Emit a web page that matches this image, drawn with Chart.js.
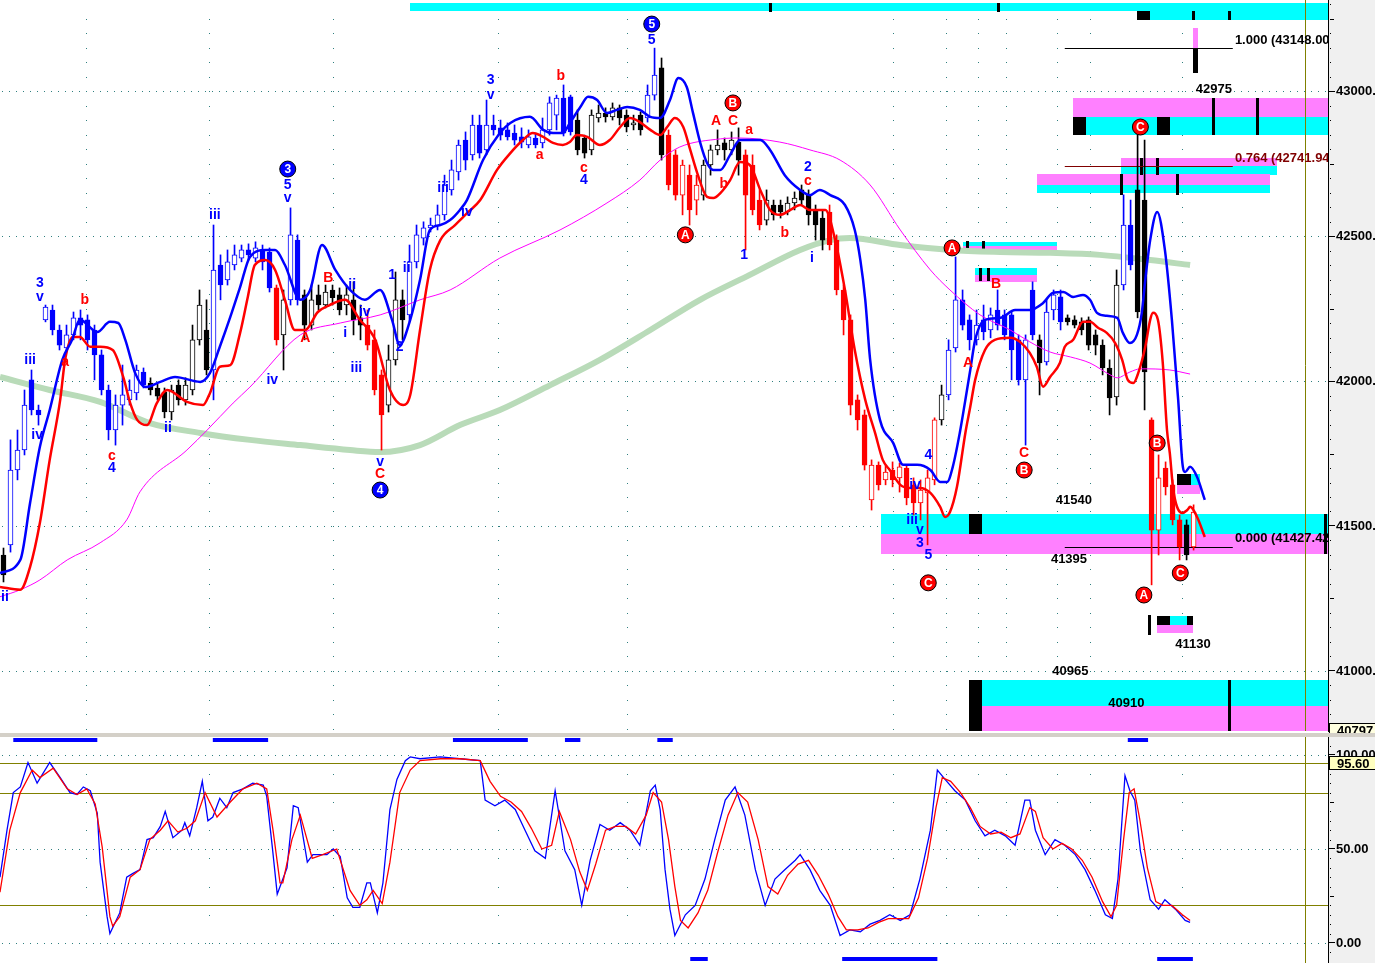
<!DOCTYPE html>
<html>
<head>
<meta charset="utf-8">
<title>Wave count chart</title>
<script src="https://cdn.jsdelivr.net/npm/chart.js@4.4.1/dist/chart.umd.min.js"></script>
<style>
  html, body { margin: 0; padding: 0; }
  body { width: 1375px; height: 963px; background: #d4d0c8; position: relative; overflow: hidden; }
  .panel { position: absolute; left: 0; width: 1375px; background: #fff; }
  #pricePanel { top: 0; height: 733px; }
  #stochPanel { top: 737px; height: 226px; }
</style>
</head>
<body>
<div class="panel" id="pricePanel"><canvas id="priceChart"></canvas></div>
<div class="panel" id="stochPanel"><canvas id="stochChart"></canvas></div>
<script>
// one row per bar: open, high, low, close, trend (b = up, r = down, k = neutral)
const ohlc = [
  [41400,41424,41307,41331,'k'],[41435,41797,41410,41693,'b'],[41693,41831,41659,41762,'b'],[41762,41969,41745,41917,'b'],
  [42004,42038,41883,41900,'b'],[41900,41917,41848,41883,'b'],[42211,42262,42204,42255,'b'],[42245,42262,42159,42176,'b'],
  [42176,42193,42107,42124,'b'],[42114,42193,42100,42159,'b'],[42159,42238,42142,42218,'b'],[42218,42245,42142,42193,'b'],
  [42211,42228,42107,42142,'b'],[42176,42193,42004,42090,'b'],[42090,42107,41952,41969,'b'],[41969,41986,41797,41831,'b'],
  [41831,41952,41779,41917,'b'],[41917,42055,41848,41952,'b'],[41935,42004,41917,41969,'b'],[41959,42055,41935,42038,'b'],
  [42031,42045,41976,41986,'b'],[41993,42011,41952,41969,'k'],[41976,41990,41935,41948,'k'],[41962,41976,41873,41893,'k'],
  [41893,41986,41866,41969,'k'],[41986,42004,41917,41935,'k'],[41935,42011,41917,41986,'k'],[41969,42193,41952,42142,'k'],
  [42142,42314,42124,42262,'k'],[42176,42280,42021,42038,'k'],[42038,42538,41935,42383,'b'],[42400,42435,42280,42331,'b'],
  [42349,42452,42331,42411,'b'],[42400,42469,42383,42435,'b'],[42424,42469,42411,42452,'b'],[42452,42473,42417,42435,'b'],
  [42424,42480,42411,42459,'b'],[42452,42469,42383,42411,'b'],[42445,42459,42307,42321,'b'],[42321,42331,42124,42142,'r'],
  [42159,42314,42038,42280,'k'],[42280,42597,42262,42504,'b'],[42486,42504,42262,42280,'b'],[42297,42314,42142,42193,'k'],
  [42193,42331,42176,42280,'k'],[42297,42331,42245,42262,'k'],[42262,42331,42252,42307,'k'],[42314,42331,42262,42287,'k'],
  [42297,42321,42228,42245,'k'],[42262,42331,42228,42297,'k'],[42280,42342,42159,42211,'k'],[42218,42262,42142,42193,'k'],
  [42193,42245,42107,42124,'r'],[42142,42176,41952,41969,'r'],[42021,42038,41762,41883,'r'],[41917,42124,41893,42073,'k'],
  [42073,42376,42055,42280,'k'],[42280,42314,42142,42211,'k'],[42228,42469,42204,42411,'b'],[42411,42538,42390,42504,'b'],
  [42493,42549,42469,42528,'b'],[42528,42562,42514,42538,'b'],[42535,42607,42521,42573,'b'],[42573,42710,42555,42676,'b'],
  [42659,42762,42641,42728,'b'],[42721,42831,42693,42814,'b'],[42831,42859,42728,42762,'b'],[42780,42917,42762,42883,'b'],
  [42883,42917,42769,42786,'b'],[42797,42969,42780,42883,'b'],[42883,42917,42848,42866,'b'],[42873,42900,42831,42848,'b'],
  [42866,42890,42831,42842,'b'],[42855,42883,42814,42831,'b'],[42842,42873,42804,42824,'b'],[42814,42866,42804,42842,'b'],
  [42838,42855,42804,42814,'b'],[42821,42907,42804,42866,'b'],[42866,42980,42848,42959,'b'],[42917,42986,42866,42976,'b'],
  [42976,43021,42845,42855,'b'],[42980,42986,42848,42859,'b'],[42900,42935,42780,42797,'k'],[42838,42848,42769,42786,'k'],
  [42797,42935,42780,42917,'k'],[42907,42952,42893,42924,'k'],[42924,42942,42893,42911,'k'],[42911,42959,42900,42942,'k'],
  [42942,42952,42883,42907,'k'],[42917,42935,42859,42876,'k'],[42883,42917,42866,42890,'k'],[42917,42928,42848,42866,'k'],
  [42907,43021,42893,42986,'b'],[42986,43148,42969,43055,'b'],[43080,43114,42762,42780,'k'],[42848,42866,42659,42676,'r'],
  [42780,42797,42624,42641,'r'],[42641,42762,42573,42745,'r'],[42710,42745,42538,42590,'r'],[42624,42710,42573,42676,'r'],
  [42641,42762,42624,42745,'k'],[42745,42814,42710,42797,'k'],[42797,42866,42780,42814,'k'],[42821,42838,42762,42797,'k'],
  [42797,42859,42780,42831,'k'],[42824,42873,42710,42762,'k'],[42780,42797,42452,42641,'r'],[42745,42780,42573,42590,'r'],
  [42624,42659,42521,42538,'r'],[42555,42659,42538,42624,'k'],[42607,42624,42555,42573,'k'],[42607,42624,42562,42583,'k'],
  [42583,42635,42573,42614,'k'],[42614,42652,42590,42631,'k'],[42659,42676,42607,42624,'k'],[42641,42659,42538,42573,'k'],
  [42590,42607,42486,42538,'k'],[42562,42590,42452,42486,'k'],[42583,42607,42452,42469,'r'],[42486,42504,42297,42314,'r'],
  [42314,42331,42159,42211,'r'],[42211,42228,41883,41917,'r'],[41935,41952,41831,41866,'r'],[41883,41900,41693,41710,'r'],
  [41590,41728,41555,41710,'r'],[41710,41721,41624,41642,'r'],[41659,41710,41642,41686,'r'],[41693,41721,41635,41659,'r'],
  [41666,41717,41617,41704,'r'],[41700,41710,41573,41597,'r'],[41642,41666,41538,41580,'r'],[41580,41659,41521,41624,'r'],
  [41614,41693,41435,41666,'r'],[41659,41873,41642,41866,'r'],[41866,41986,41848,41952,'k'],[41952,42142,41935,42107,'b'],
  [42114,42428,42100,42280,'b'],[42280,42314,42176,42193,'b'],[42211,42228,42107,42142,'b'],[42142,42245,42124,42193,'b'],
  [42211,42262,42142,42169,'b'],[42176,42252,42149,42228,'b'],[42245,42314,42176,42193,'b'],[42228,42245,42142,42159,'b'],
  [42228,42238,42004,42107,'b'],[42142,42159,41986,42004,'b'],[42004,42159,41779,42142,'b'],[42314,42342,42142,42159,'b'],
  [42142,42159,41952,42062,'k'],[42066,42280,42055,42238,'b'],[42245,42314,42211,42297,'b'],[42290,42314,42176,42204,'b'],
  [42218,42228,42193,42204,'k'],[42211,42225,42183,42193,'k'],[42204,42218,42159,42176,'k'],[42211,42221,42107,42124,'k'],
  [42159,42176,42090,42124,'k'],[42124,42142,42021,42045,'k'],[42045,42073,41883,41942,'k'],[41945,42383,41917,42331,'k'],
  [42331,42642,42314,42538,'b'],[42538,42624,42383,42400,'b'],[42659,42866,42218,42238,'k'],[42624,42831,41900,42031,'k'],
  [41866,41873,41297,41486,'r'],[41486,41745,41400,41666,'r'],[41700,41721,41607,41635,'r'],[41642,41659,41504,41521,'r'],
  [41521,41538,41383,41428,'r'],[41504,41521,41383,41400,'k'],[41428,41573,41417,41548,'r']
];

// indicator lines: [bar, price]
const blueBand = [[-0.5,41338],[2.4,41383],[3.8,41580],[5.2,41773],[6.6,41900],[8.4,42073],[9.8,42142],[10.9,42211],[13.4,42169],[15.2,42204],[16.4,42200],[17.4,42142],[18.8,42028],[20.2,41979],[22.4,41997],[24.5,42014],[28.1,41997],[29.5,42028],[30.9,42118],[32.4,42221],[33.8,42324],[35.2,42428],[37.4,42452],[38.8,42452],[40.2,42400],[42.4,42280],[43.8,42314],[45.5,42469],[47.4,42383],[49.5,42314],[51.6,42280],[53.8,42314],[55.5,42211],[56.6,42124],[58.1,42211],[59.5,42349],[60.9,42521],[62.4,42538],[63.8,42555],[65.2,42590],[66.2,42624],[68.5,42762],[70.9,42855],[72.4,42890],[75.2,42911],[77.1,42866],[78.5,42855],[79.9,42855],[80.9,42890],[82.4,42945],[83.5,42980],[84.8,42969],[86.2,42924],[87.6,42935],[89.1,42945],[90.9,42935],[92.4,42911],[93.8,42907],[95.2,42969],[96.4,43045],[97.6,43014],[98.5,42924],[99.5,42824],[100.5,42752],[101.4,42728],[102.4,42728],[103.8,42780],[105.2,42831],[108.1,42831],[109.5,42797],[111.6,42710],[113.8,42659],[115.2,42641],[116.6,42659],[118.1,42641],[120.2,42607],[121.6,42521],[122.4,42417],[123.1,42280],[123.8,42073],[125.2,41866],[127.1,41786],[128.5,41711],[130.5,41711],[132.4,41693],[133.8,41652],[134.8,41652],[135.6,41704],[136.6,41821],[137.4,41935],[138.1,42038],[138.8,42142],[140.2,42211],[142.4,42218],[144.5,42245],[146.6,42245],[148.5,42269],[149.9,42304],[151.4,42307],[152.8,42290],[154.2,42297],[155.2,42280],[156.2,42235],[157.6,42225],[159.1,42218],[159.9,42166],[160.9,42131],[161.9,42159],[162.6,42235],[163.1,42349],[163.8,42486],[164.8,42583],[165.9,42452],[166.9,42211],[167.8,41935],[168.4,41717],[168.8,41686],[169.5,41704],[170.5,41669],[171.6,41590]];
const redBand = [[-0.5,41290],[2.4,41280],[3.8,41359],[5.2,41511],[6.6,41728],[8.1,41935],[8.8,42073],[9.9,42152],[10.9,42152],[12.4,42118],[13.8,42118],[15.6,42107],[17.1,42014],[18.1,41924],[19.1,41866],[20.5,41848],[21.9,41924],[23.4,41969],[26.2,41928],[28.5,41917],[29.5,41959],[30.9,42049],[32.4,42055],[33.8,42166],[34.9,42290],[35.9,42400],[37.4,42417],[38.8,42383],[40.2,42280],[41.6,42176],[43.1,42176],[44.9,42238],[46.6,42262],[48.8,42280],[50.9,42211],[53.1,42142],[55.2,41969],[57.1,41917],[58.1,41952],[59.5,42176],[60.9,42383],[62.4,42486],[64.5,42538],[66.4,42583],[68.1,42624],[70.5,42728],[72.4,42786],[74.2,42831],[75.6,42855],[77.1,42842],[78.5,42821],[79.9,42814],[80.9,42824],[81.9,42848],[83.4,42842],[85.2,42814],[86.6,42831],[88.1,42876],[89.5,42907],[90.9,42893],[92.4,42866],[93.8,42848],[94.8,42876],[95.9,42907],[97.1,42876],[98.1,42797],[99.1,42717],[100.5,42635],[101.4,42631],[102.4,42648],[103.8,42693],[105.2,42755],[106.6,42745],[108.1,42659],[109.5,42590],[110.9,42573],[112.4,42590],[113.8,42607],[115.2,42590],[117.4,42590],[118.8,42486],[120.2,42314],[121.6,42107],[123.1,41935],[124.5,41821],[125.6,41728],[126.6,41693],[128.1,41642],[129.5,41631],[130.9,41631],[132.4,41614],[133.8,41566],[134.5,41531],[135.2,41548],[136.2,41635],[137.4,41821],[138.1,41911],[138.8,42004],[140.2,42107],[141.6,42142],[143.8,42149],[145.2,42135],[146.6,42097],[147.6,42049],[148.5,41980],[149.5,42014],[150.9,42062],[151.6,42118],[152.8,42142],[154.2,42204],[155.2,42204],[156.4,42183],[157.6,42166],[158.8,42131],[159.8,42073],[160.6,42004],[161.4,41993],[162.1,42028],[163.1,42118],[163.8,42211],[164.2,42235],[164.9,42211],[165.6,42062],[166.2,41831],[166.6,41752],[167.1,41624],[168.4,41545],[169.1,41555],[169.5,41566],[170.5,41531],[171.6,41462]];
const magentaAvg = [[-0.5,41256],[2.4,41280],[5.2,41314],[9.1,41383],[13.8,41442],[17.6,41521],[19.5,41618],[26.2,41762],[29.1,41831],[32.8,41924],[35.2,41979],[42.4,42159],[48.1,42200],[53.8,42228],[59.5,42280],[63.8,42314],[70.9,42424],[79.5,42521],[86.2,42614],[90.9,42693],[93.8,42762],[96.6,42807],[102.4,42835],[105.2,42838],[110.9,42824],[115.2,42797],[119.5,42762],[123.8,42676],[128.1,42521],[132.4,42383],[135.2,42314],[139.5,42228],[143.8,42176],[146.6,42135],[149.5,42100],[152.4,42083],[155.2,42062],[158.1,42021],[159.1,42011],[160.9,42031],[162.4,42042],[166.6,42038],[169.5,42024]];
const greenAvg = [[-0.5,42014],[6.6,41969],[13.8,41928],[20.9,41855],[28.1,41821],[35.2,41797],[42.4,41779],[49.5,41762],[53.8,41755],[59.5,41779],[65.2,41848],[70.9,41900],[78.1,41986],[85.2,42073],[92.4,42176],[99.5,42280],[106.6,42366],[113.8,42452],[118.1,42486],[120.9,42493],[128.1,42469],[135.2,42452],[142.4,42445],[149.5,42442],[156.6,42435],[163.8,42417],[169.5,42400]];

// stochastic: [bar, value]
const stochK = [[-0.5,35],[0.5,60],[1.4,80],[2.4,83],[3.5,96],[4.8,85],[6.6,96],[8.1,88],[9.5,80],[10.5,79],[11.4,83],[12.4,81],[13.4,69],[13.8,43],[14.8,14],[15.2,5],[16.6,16],[17.6,35],[18.5,37],[19.5,39],[20.5,55],[21.4,56],[22.4,62],[23.1,70],[24.2,56],[25.5,60],[25.9,64],[26.6,57],[27.6,72],[28.4,86],[29.2,65],[29.9,67],[30.9,77],[31.9,72],[32.8,80],[34.2,82],[35.6,85],[37.1,84],[37.6,78],[38.4,51],[39.1,26],[40.5,40],[41.4,73],[42.1,72],[43.4,43],[44.2,47],[46.2,47],[47.1,50],[48.1,46],[49.1,24],[49.9,19],[50.9,19],[51.9,32],[52.4,32],[53.4,16],[54.2,32],[55.2,71],[56.2,87],[57.4,97],[58.1,99],[59.5,98],[62.4,99],[65.2,98],[68.1,97],[68.8,76],[70.2,73],[71.6,76],[73.1,71],[74.5,60],[75.9,49],[77.4,45],[78.8,81],[80.2,49],[81.6,39],[82.6,20],[83.8,44],[85.2,63],[86.6,60],[88.1,64],[89.5,60],[90.9,52],[92.4,81],[93.1,84],[93.8,71],[94.5,39],[95.2,18],[95.9,4],[97.4,15],[98.8,20],[100.2,34],[101.6,55],[103.1,76],[104.5,83],[105.9,68],[107.4,39],[108.8,20],[110.2,34],[111.6,39],[113.1,44],[113.8,47],[115.2,39],[116.6,28],[118.1,20],[119.5,4],[120.9,7],[122.4,6],[123.8,10],[125.2,12],[126.6,15],[128.1,12],[129.5,15],[130.9,34],[132.4,60],[133.4,92],[134.5,87],[135.9,81],[137.4,76],[138.8,65],[140.2,57],[141.6,60],[143.1,57],[144.5,52],[145.9,76],[146.6,76],[147.4,60],[148.8,47],[150.2,55],[151.6,52],[153.1,47],[154.5,39],[155.9,28],[157.4,15],[158.4,13],[159.2,34],[160.2,89],[160.9,81],[161.6,76],[162.4,49],[163.8,23],[165.0,18],[165.9,23],[167.4,18],[168.8,12],[169.5,11]];
const stochD = [[-0.5,27],[0.9,60],[2.4,80],[4.1,92],[5.2,88],[7.1,93],[9.1,82],[10.5,79],[11.9,82],[13.1,74],[14.1,51],[15.2,14],[15.6,9],[16.6,14],[18.1,35],[19.5,39],[20.9,55],[22.4,60],[23.5,65],[24.9,59],[26.2,61],[27.4,65],[28.8,80],[30.5,67],[32.4,75],[34.2,82],[36.2,85],[37.6,82],[38.5,60],[39.5,32],[39.9,32],[41.2,55],[42.4,68],[44.1,45],[45.6,47],[47.6,50],[49.5,28],[50.9,20],[51.9,23],[52.8,28],[54.1,21],[55.2,43],[56.6,80],[58.1,92],[59.5,97],[62.4,98],[65.2,98],[68.1,97],[69.5,86],[71.0,78],[72.5,75],[74.0,70],[75.4,61],[76.9,50],[78.3,52],[79.4,70],[81.0,55],[82.3,38],[83.4,28],[84.6,42],[86.0,60],[87.4,62],[88.9,62],[90.3,58],[91.8,68],[92.8,80],[94.0,75],[95.0,55],[95.9,30],[96.7,12],[97.8,8],[99.2,16],[100.6,28],[102.0,48],[103.5,68],[104.9,80],[106.3,75],[107.8,55],[109.2,30],[110.6,26],[112.0,36],[113.5,42],[115.0,44],[116.4,36],[117.8,26],[119.2,14],[120.4,7],[122.0,7],[123.5,8],[125.0,11],[126.4,13],[128.0,13],[129.3,13],[130.7,24],[132.0,45],[133.2,72],[134.1,88],[135.3,86],[136.7,80],[138.1,72],[139.5,62],[141.0,58],[142.5,59],[143.9,56],[145.2,58],[146.6,72],[147.4,70],[148.5,56],[149.9,50],[151.2,53],[152.6,50],[154.1,44],[155.5,35],[157.0,22],[158.2,14],[159.0,20],[160.0,55],[160.8,80],[161.5,82],[162.3,66],[163.4,40],[164.6,22],[165.6,20],[166.9,20],[168.4,15],[169.5,12]];

const priceTicks = [41000, 41500, 42000, 42500, 43000];
const stochTicks = [0, 50, 100];
const stochLevels = [95.6, 80, 20];
const lastPrice = 40797;
const lastStoch = 95.6;

// wave labels: bar, price, text, colour, circled
const waveLabels = [
  [5.2,42338,'3','b',0],[5.2,42290,'v','b',0],[11.6,42280,'b','r',0],[8.8,42066,'a','r',0],[3.8,42073,'iii','b',0],
  [4.8,41814,'iv','b',0],[15.5,41742,'c','r',0],[15.5,41700,'4','b',0],[23.5,41838,'ii','b',0],[0.2,41256,'ii','b',0],
  [30.2,42573,'iii','b',0],[38.4,42004,'iv','b',0],[40.6,42731,'3','b',1],[40.6,42676,'5','b',0],[40.6,42631,'v','b',0],
  [43.1,42149,'A','r',0],[46.4,42355,'B','r',0],[49.8,42331,'ii','b',0],[51.6,42238,'iv','b',0],[50.4,42045,'iii','b',0],
  [48.8,42166,'i','b',0],[53.8,41721,'v','b',0],[53.8,41680,'C','r',0],[53.8,41624,'4','b',1],[55.5,42366,'1','b',0],
  [57.6,42390,'ii','b',0],[56.6,42118,'2','b',0],[62.8,42666,'iii','b',0],[66.2,42583,'iv','b',0],[69.6,43038,'3','b',0],
  [69.6,42986,'v','b',0],[76.6,42780,'a','r',0],[79.6,43052,'b','r',0],[82.9,42735,'c','r',0],[82.9,42693,'4','b',0],
  [92.6,43231,'5','b',1],[92.6,43176,'5','b',0],[97.4,42504,'A','r',1],[101.8,42897,'A','r',0],[104.2,42897,'C','r',0],
  [104.2,42959,'B','r',1],[106.5,42866,'a','r',0],[102.9,42680,'b','r',0],[105.8,42435,'1','b',0],[111.6,42511,'b','r',0],
  [114.9,42738,'2','b',0],[114.9,42690,'c','r',0],[115.5,42424,'i','b',0],[132.1,41745,'4','b',0],[130.2,41642,'iv','b',0],
  [129.8,41521,'iii','b',0],[130.9,41487,'v','b',0],[130.9,41442,'3','b',0],[132.1,41400,'5','b',0],[132.1,41304,'C','r',1],
  [135.5,42459,'A','r',1],[137.8,42062,'A','r',0],[141.8,42335,'B','r',0],[145.8,41752,'C','r',0],[145.8,41693,'B','r',1],
  [162.4,42876,'C','r',1],[162.9,41262,'A','r',1],[164.8,41786,'B','r',1],[168.1,41338,'C','r',1]
];

// price notes: bar, price, text, align, colour
const priceNotes = [
  [172.9,43007,'42975','center','k'],[175.9,43176,'1.000 (43148.00','left','k'],
  [175.9,42769,'0.764 (42741.94','left','d'],[175.9,41456,'0.000 (41427.42','left','k'],
  [152.9,41587,'41540','center','k'],[152.2,41383,'41395','center','k'],[169.9,41090,'41130','center','k'],
  [152.4,41000,'40965','center','k'],[160.4,40887,'40910','center','k']
];

// zones: from bar, to bar, low, high, kind (c = cyan, m = pink, k = black)
const zones = [
  [58.1,189.3,43276,43304,'c'],[161.9,189.3,43245,43276,'c'],[161.9,163.8,43245,43276,'k'],
  [152.8,189.3,42911,42976,'m'],[152.8,189.3,42848,42911,'c'],[152.8,154.6,42848,42911,'k'],[164.8,166.6,42848,42911,'k'],
  [159.6,181.9,42742,42769,'m'],[159.6,181.9,42710,42742,'c'],
  [147.6,180.9,42676,42714,'m'],[147.6,180.9,42648,42676,'c'],
  [169.9,170.6,43148,43217,'m'],[169.9,170.6,43062,43148,'k'],
  [137.1,150.5,42466,42480,'c'],[137.1,150.5,42452,42466,'m'],
  [138.8,147.6,42366,42390,'c'],[138.8,147.6,42342,42366,'m'],
  [125.4,189.3,41473,41542,'c'],[125.4,189.3,41404,41473,'m'],[137.9,139.8,41473,41542,'k'],
  [167.6,169.6,41642,41680,'k'],[169.6,170.9,41642,41680,'c'],[167.6,170.9,41611,41642,'m'],
  [164.8,166.6,41159,41190,'k'],[166.6,169.1,41159,41190,'c'],[169.1,169.9,41159,41190,'k'],[164.8,169.9,41131,41159,'m'],
  [137.9,189.3,40880,40969,'c'],[137.9,189.3,40793,40880,'m'],[137.9,139.8,40793,40969,'k']
];
// black marker strokes: bar, low, high
const zoneMarks = [
  [172.8,42848,42976],[179.1,42848,42976],[162.5,42710,42769],[164.8,42710,42769],[159.6,42641,42714],[167.6,42641,42714],
  [188.8,41404,41542],[137.6,42449,42483],[139.9,42449,42483],[139.5,42345,42390],[140.6,42345,42390],[163.6,41124,41193],
  [175.1,40793,40969],[109.5,43273,43304],[142.0,43273,43304],[169.9,43245,43276],[175.1,43245,43276]
];
// retracement lines: from bar, to bar, price, colour
const fibLines = [[151.6,175.6,43148,'k'],[151.6,175.6,42742,'d'],[151.6,175.6,41427,'k']];

const vGridBars = [11.8, 29.4, 47.1, 70.6, 89.1, 127.1, 134.6, 139.2, 143.2, 150.5, 155.2, 168.4];
const cursorBar = 185.9;
const topSignals = [[1.4,13.4],[29.9,37.8],[64.2,74.9],[80.2,82.4],[93.4,95.6],[160.6,163.5]];
const bottomSignals = [[98.1,100.6],[119.8,133.4],[164.8,169.9]];

const COLORS = { b: '#0000ff', r: '#ff0000', k: '#000000', d: '#800000', c: '#00ffff', m: '#ff80ff' };
const AXIS_W = 47;
const X_MIN = -0.5, X_MAX = 189.2;
const FONT = '"Liberation Sans", Arial, sans-serif';

Chart.defaults.font.family = FONT;
Chart.defaults.animation = false;

const xy = (pts) => pts.map(([x, y]) => ({ x, y }));

function dotRow(ctx, x0, x1, py, step) {
  for (let px = x0 + 2; px < x1; px += step) ctx.fillRect(Math.round(px), Math.round(py), 1, 1);
}

function axisBackground(chart) {
  const { ctx, chartArea: a } = chart;
  ctx.save();
  ctx.fillStyle = '#f0f0f0';
  ctx.fillRect(a.right, 0, chart.width - a.right, chart.height);
  ctx.restore();
}

function cursorLine(chart) {
  const { ctx, chartArea: a, scales: { x } } = chart;
  const px = Math.round(x.getPixelForValue(cursorBar)) + 0.5;
  ctx.strokeStyle = '#808000';
  ctx.lineWidth = 1;
  ctx.beginPath();
  ctx.moveTo(px, a.top);
  ctx.lineTo(px, a.bottom);
  ctx.stroke();
}

const pricePlugin = {
  id: 'pricePlugin',
  beforeDraw: axisBackground,
  beforeDatasetsDraw(chart) {
    const { ctx, chartArea: a, scales: { x, y } } = chart;
    ctx.save();
    ctx.beginPath();
    ctx.rect(a.left, a.top, a.width, a.height);
    ctx.clip();

    ctx.fillStyle = '#2f7f7f';
    priceTicks.forEach((v) => dotRow(ctx, a.left, a.right, y.getPixelForValue(v), 7));
    vGridBars.forEach((b) => {
      const px = Math.round(x.getPixelForValue(b));
      for (let v = 40800; v < 43300; v += 50) ctx.fillRect(px, Math.round(y.getPixelForValue(v)), 1, 1);
    });

    zones.forEach(([b0, b1, lo, hi, kind]) => {
      const px0 = Math.round(x.getPixelForValue(b0));
      const px1 = Math.round(x.getPixelForValue(b1));
      const py0 = Math.round(y.getPixelForValue(hi));
      const py1 = Math.round(y.getPixelForValue(lo));
      ctx.fillStyle = COLORS[kind];
      ctx.fillRect(px0, py0, px1 - px0, py1 - py0);
    });

    ctx.fillStyle = '#000';
    zoneMarks.forEach(([b, lo, hi]) => {
      const px = Math.round(x.getPixelForValue(b));
      const py0 = Math.round(y.getPixelForValue(hi));
      const py1 = Math.round(y.getPixelForValue(lo));
      ctx.fillRect(px - 1, py0, 3, py1 - py0);
    });

    fibLines.forEach(([b0, b1, p, c]) => {
      const py = Math.round(y.getPixelForValue(p)) + 0.5;
      ctx.strokeStyle = COLORS[c];
      ctx.lineWidth = 1;
      ctx.beginPath();
      ctx.moveTo(x.getPixelForValue(b0), py);
      ctx.lineTo(x.getPixelForValue(b1), py);
      ctx.stroke();
    });

    cursorLine(chart);
    ctx.restore();
  },
  afterDatasetsDraw(chart) {
    const { ctx, chartArea: a, scales: { x, y } } = chart;
    ctx.save();
    ctx.beginPath();
    ctx.rect(a.left, a.top, a.width, a.height);
    ctx.clip();
    ctx.textBaseline = 'middle';

    waveLabels.forEach(([b, p, text, c, circled]) => {
      const px = x.getPixelForValue(b);
      const py = y.getPixelForValue(p);
      if (circled) {
        ctx.beginPath();
        ctx.arc(px, py, 8, 0, Math.PI * 2);
        ctx.fillStyle = COLORS[c];
        ctx.fill();
        ctx.strokeStyle = '#000';
        ctx.lineWidth = 1;
        ctx.stroke();
        ctx.fillStyle = '#fff';
        ctx.font = 'bold 12px ' + FONT;
        ctx.textAlign = 'center';
        ctx.fillText(text, px, py + 1);
      } else {
        ctx.fillStyle = COLORS[c];
        ctx.font = 'bold 14px ' + FONT;
        ctx.textAlign = 'center';
        ctx.fillText(text, px, py);
      }
    });

    ctx.font = 'bold 13px ' + FONT;
    priceNotes.forEach(([b, p, text, align, c]) => {
      ctx.fillStyle = COLORS[c];
      ctx.textAlign = align;
      ctx.fillText(text, x.getPixelForValue(b), y.getPixelForValue(p));
    });
    ctx.restore();
  },
  afterDraw(chart) {
    const { ctx, chartArea: a, scales: { y } } = chart;
    ctx.save();
    ctx.fillStyle = '#000';
    for (let v = 40800; v < 43314; v += 50) {
      if (v % 500 === 0) continue;
      const py = Math.round(y.getPixelForValue(v));
      ctx.fillRect(a.right + 2, py, v % 250 === 0 ? 4 : 1, 1);
    }
    const py = Math.round(y.getPixelForValue(lastPrice));
    ctx.fillStyle = '#ffffe0';
    ctx.fillRect(a.right + 1, py - 7, AXIS_W, 14);
    ctx.strokeStyle = '#000';
    ctx.strokeRect(a.right + 1.5, py - 6.5, AXIS_W, 13);
    ctx.fillStyle = '#000';
    ctx.font = 'bold 13px ' + FONT;
    ctx.textBaseline = 'middle';
    ctx.fillText(String(lastPrice), a.right + 9, py + 1);
    ctx.restore();
  }
};

const stochPlugin = {
  id: 'stochPlugin',
  beforeDraw: axisBackground,
  beforeDatasetsDraw(chart) {
    const { ctx, chartArea: a, scales: { x, y } } = chart;
    ctx.save();
    ctx.beginPath();
    ctx.rect(a.left, a.top, a.width, a.height);
    ctx.clip();
    ctx.fillStyle = '#2f7f7f';
    stochTicks.forEach((v) => dotRow(ctx, a.left, a.right, y.getPixelForValue(v), 7));
    vGridBars.forEach((b) => {
      const px = Math.round(x.getPixelForValue(b));
      for (let v = 0; v <= 100; v += 15) ctx.fillRect(px, Math.round(y.getPixelForValue(v)), 1, 1);
    });
    ctx.strokeStyle = '#808000';
    ctx.lineWidth = 1;
    stochLevels.forEach((v) => {
      const py = Math.round(y.getPixelForValue(v)) + 0.5;
      ctx.beginPath();
      ctx.moveTo(a.left, py);
      ctx.lineTo(a.right, py);
      ctx.stroke();
    });
    cursorLine(chart);
    ctx.fillStyle = '#0000ff';
    topSignals.forEach(([b0, b1]) => {
      const px0 = x.getPixelForValue(b0);
      ctx.fillRect(px0, a.top + 1, x.getPixelForValue(b1) - px0, 4);
    });
    bottomSignals.forEach(([b0, b1]) => {
      const px0 = x.getPixelForValue(b0);
      ctx.fillRect(px0, a.bottom - 6, x.getPixelForValue(b1) - px0, 4);
    });
    ctx.restore();
  },
  afterDraw(chart) {
    const { ctx, chartArea: a, scales: { y } } = chart;
    ctx.save();
    ctx.fillStyle = '#000';
    for (let v = -5; v <= 105; v += 5) {
      if (v % 50 === 0) continue;
      const py = Math.round(y.getPixelForValue(v));
      ctx.fillRect(a.right + 2, py, v % 25 === 0 ? 4 : 1, 1);
    }
    const py = Math.round(y.getPixelForValue(lastStoch));
    ctx.fillStyle = '#ffffc0';
    ctx.fillRect(a.right + 1, py - 7, AXIS_W, 14);
    ctx.strokeStyle = '#000';
    ctx.strokeRect(a.right + 1.5, py - 6.5, AXIS_W, 13);
    ctx.fillStyle = '#000';
    ctx.font = 'bold 13px ' + FONT;
    ctx.textBaseline = 'middle';
    ctx.fillText(lastStoch.toFixed(2), a.right + 9, py + 1);
    ctx.restore();
  }
};

function rightAxis(min, max, ticks, fmt) {
  return {
    position: 'right',
    min: min,
    max: max,
    afterFit: (s) => { s.width = AXIS_W; s.paddingTop = 0; s.paddingBottom = 0; },
    afterBuildTicks: (s) => { s.ticks = ticks.map((v) => ({ value: v })); },
    ticks: { callback: fmt, color: '#000', font: { size: 13, weight: 'bold' }, padding: 1, autoSkip: false },
    grid: { drawOnChartArea: false, drawTicks: true, tickLength: 7, color: '#000' },
    border: { display: true, color: '#000', width: 1 }
  };
}

const xAxis = { type: 'linear', min: X_MIN, max: X_MAX, offset: false, display: false };

new Chart(document.getElementById('priceChart'), {
  type: 'bar',
  data: {
    datasets: [
      { type: 'line', data: xy(greenAvg), borderColor: '#b9dbb9', borderWidth: 6, pointRadius: 0, cubicInterpolationMode: 'monotone', order: 10 },
      {
        type: 'bar', data: ohlc.map((d, i) => ({ x: i, y: [d[2], d[1]] })),
        backgroundColor: ohlc.map((d) => COLORS[d[4]]), barThickness: 1, grouped: false, order: 8
      },
      {
        type: 'bar', data: ohlc.map((d, i) => ({ x: i, y: [d[0], d[3]] })),
        backgroundColor: ohlc.map((d) => (d[3] < d[0] ? COLORS[d[4]] : '#ffffff')),
        borderColor: ohlc.map((d) => COLORS[d[4]]), borderWidth: 1, borderSkipped: false,
        barThickness: 5, grouped: false, order: 7
      },
      { type: 'line', data: xy(magentaAvg), borderColor: '#ff00ff', borderWidth: 1, pointRadius: 0, cubicInterpolationMode: 'monotone', order: 3 },
      { type: 'line', data: xy(redBand), borderColor: '#ff0000', borderWidth: 2.5, pointRadius: 0, cubicInterpolationMode: 'monotone', order: 2 },
      { type: 'line', data: xy(blueBand), borderColor: '#0000ff', borderWidth: 2.5, pointRadius: 0, cubicInterpolationMode: 'monotone', order: 1 }
    ]
  },
  options: {
    responsive: true,
    maintainAspectRatio: false,
    layout: { padding: { top: 0, bottom: 2, left: 0, right: 0 } },
    plugins: { legend: { display: false }, tooltip: { enabled: false } },
    scales: { x: xAxis, y: rightAxis(40793, 43314, priceTicks, (v) => v + '.') }
  },
  plugins: [pricePlugin]
});

new Chart(document.getElementById('stochChart'), {
  type: 'line',
  data: {
    datasets: [
      { data: xy(stochD), borderColor: '#ff0000', borderWidth: 1.3, pointRadius: 0, order: 1 },
      { data: xy(stochK), borderColor: '#0000ff', borderWidth: 1.3, pointRadius: 0, order: 2 }
    ]
  },
  options: {
    responsive: true,
    maintainAspectRatio: false,
    layout: { padding: 0 },
    plugins: { legend: { display: false }, tooltip: { enabled: false } },
    scales: { x: xAxis, y: rightAxis(-10.64, 109.57, stochTicks, (v) => v.toFixed(2)) }
  },
  plugins: [stochPlugin]
});
</script>
</body>
</html>
